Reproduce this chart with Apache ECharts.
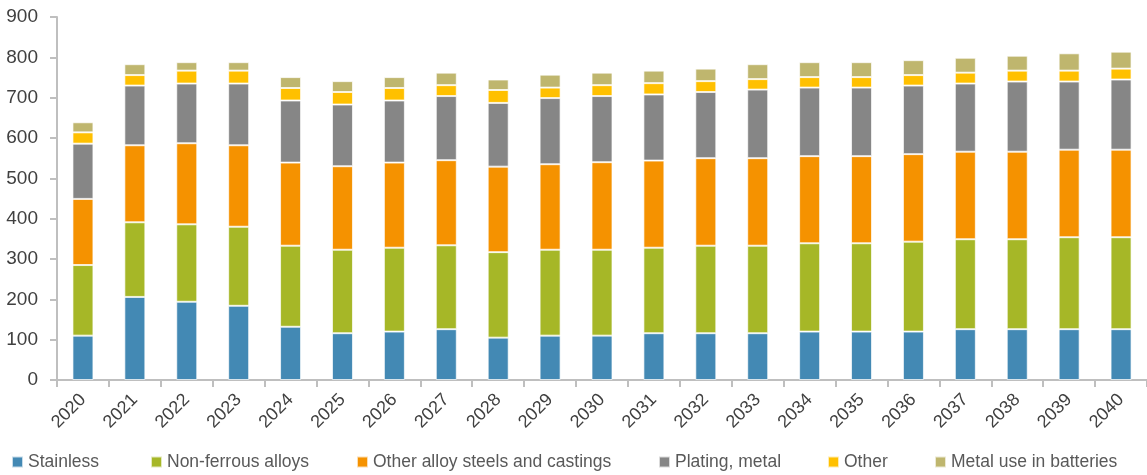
<!DOCTYPE html>
<html>
<head>
<meta charset="utf-8">
<script src="https://cdn.jsdelivr.net/npm/echarts@6/dist/echarts.min.js"></script>
<style>
html,body{margin:0;padding:0;background:#fff;}
#chart{width:1147px;height:475px;}
</style>
</head>
<body>
<div id="chart"></div>
<script>
const years = ['2020','2021','2022','2023','2024','2025','2026','2027','2028','2029','2030','2031','2032','2033','2034','2035','2036','2037','2038','2039','2040'];
const stainless = [110,206,194,184,132,116,120,126,105,110,110,116,116,116,120,120,120,126,126,126,126];
const nonFerrous = [175,185,192,196,201,207,208,208,212,213,213,212,217,217,219,219,223,223,223,228,228];
const otherAlloy = [164,191,201,202,206,207,211,211,212,212,217,216,217,217,216,216,217,217,217,217,217];
const plating = [137,148,148,153,154,153,154,159,158,164,164,164,164,170,170,170,170,169,174,169,174];
const other = [28,26,32,32,31,31,31,27,32,26,27,28,27,26,26,26,26,27,27,27,27];
const batteries = [25,27,21,21,27,27,27,31,26,32,31,31,31,37,37,37,37,37,37,43,42];
const seriesNames = ['Stainless','Non-ferrous alloys','Other alloy steels and castings','Plating, metal','Other','Metal use in batteries'];
const yTicks = [0,100,200,300,400,500,600,700,800,900];

const colors = ['#4389B4','#A6B727','#F59200','#868686','#FFC000','#BFB66E'];
const dataSets = [stainless, nonFerrous, otherAlloy, plating, other, batteries];
const FONT = "'Liberation Sans Narrow', 'Arial Narrow', 'Liberation Sans', Arial, sans-serif";
const legendLeft = [11, 150, 356, 658, 827, 934];

const chart = echarts.init(document.getElementById('chart'), null, {renderer:'canvas'});
const option = {
  animation: false,
  color: colors,
  grid: {left: 57, right: 0, top: 17, bottom: 95, containLabel: false},
  legend: seriesNames.map((n, i) => ({
    data: [n], left: legendLeft[i], top: 453, padding: 0, itemWidth: 11, itemHeight: 11, itemGap: 5,
    icon: 'rect', selectedMode: false,
    textStyle: {fontFamily: FONT, fontSize: 17.5, color: '#595959'}
  })),
  xAxis: {
    type: 'category', data: years,
    axisLine: {lineStyle: {color: '#BFBFBF', width: 2}},
    axisTick: {show: true, length: 7, lineStyle: {color: '#BFBFBF', width: 2}},
    axisLabel: {rotate: 45, fontFamily: FONT, fontSize: 18, color: '#404040', margin: 17}
  },
  yAxis: {
    type: 'value', min: yTicks[0], max: yTicks[yTicks.length-1], interval: 100,
    splitLine: {show: false},
    axisLine: {show: true, lineStyle: {color: '#BFBFBF', width: 2}},
    axisTick: {show: true, length: 7, lineStyle: {color: '#BFBFBF', width: 2}},
    axisLabel: {fontFamily: FONT, fontSize: 19, color: '#404040', margin: 19}
  },
  series: seriesNames.map((n, i) => ({
    name: n, type: 'bar', stack: 'total', barWidth: 21,
    data: dataSets[i],
    itemStyle: {color: colors[i], borderColor: 'rgba(255,255,255,0.7)', borderWidth: 1}
  }))
};
chart.setOption(option);
</script>
</body>
</html>
